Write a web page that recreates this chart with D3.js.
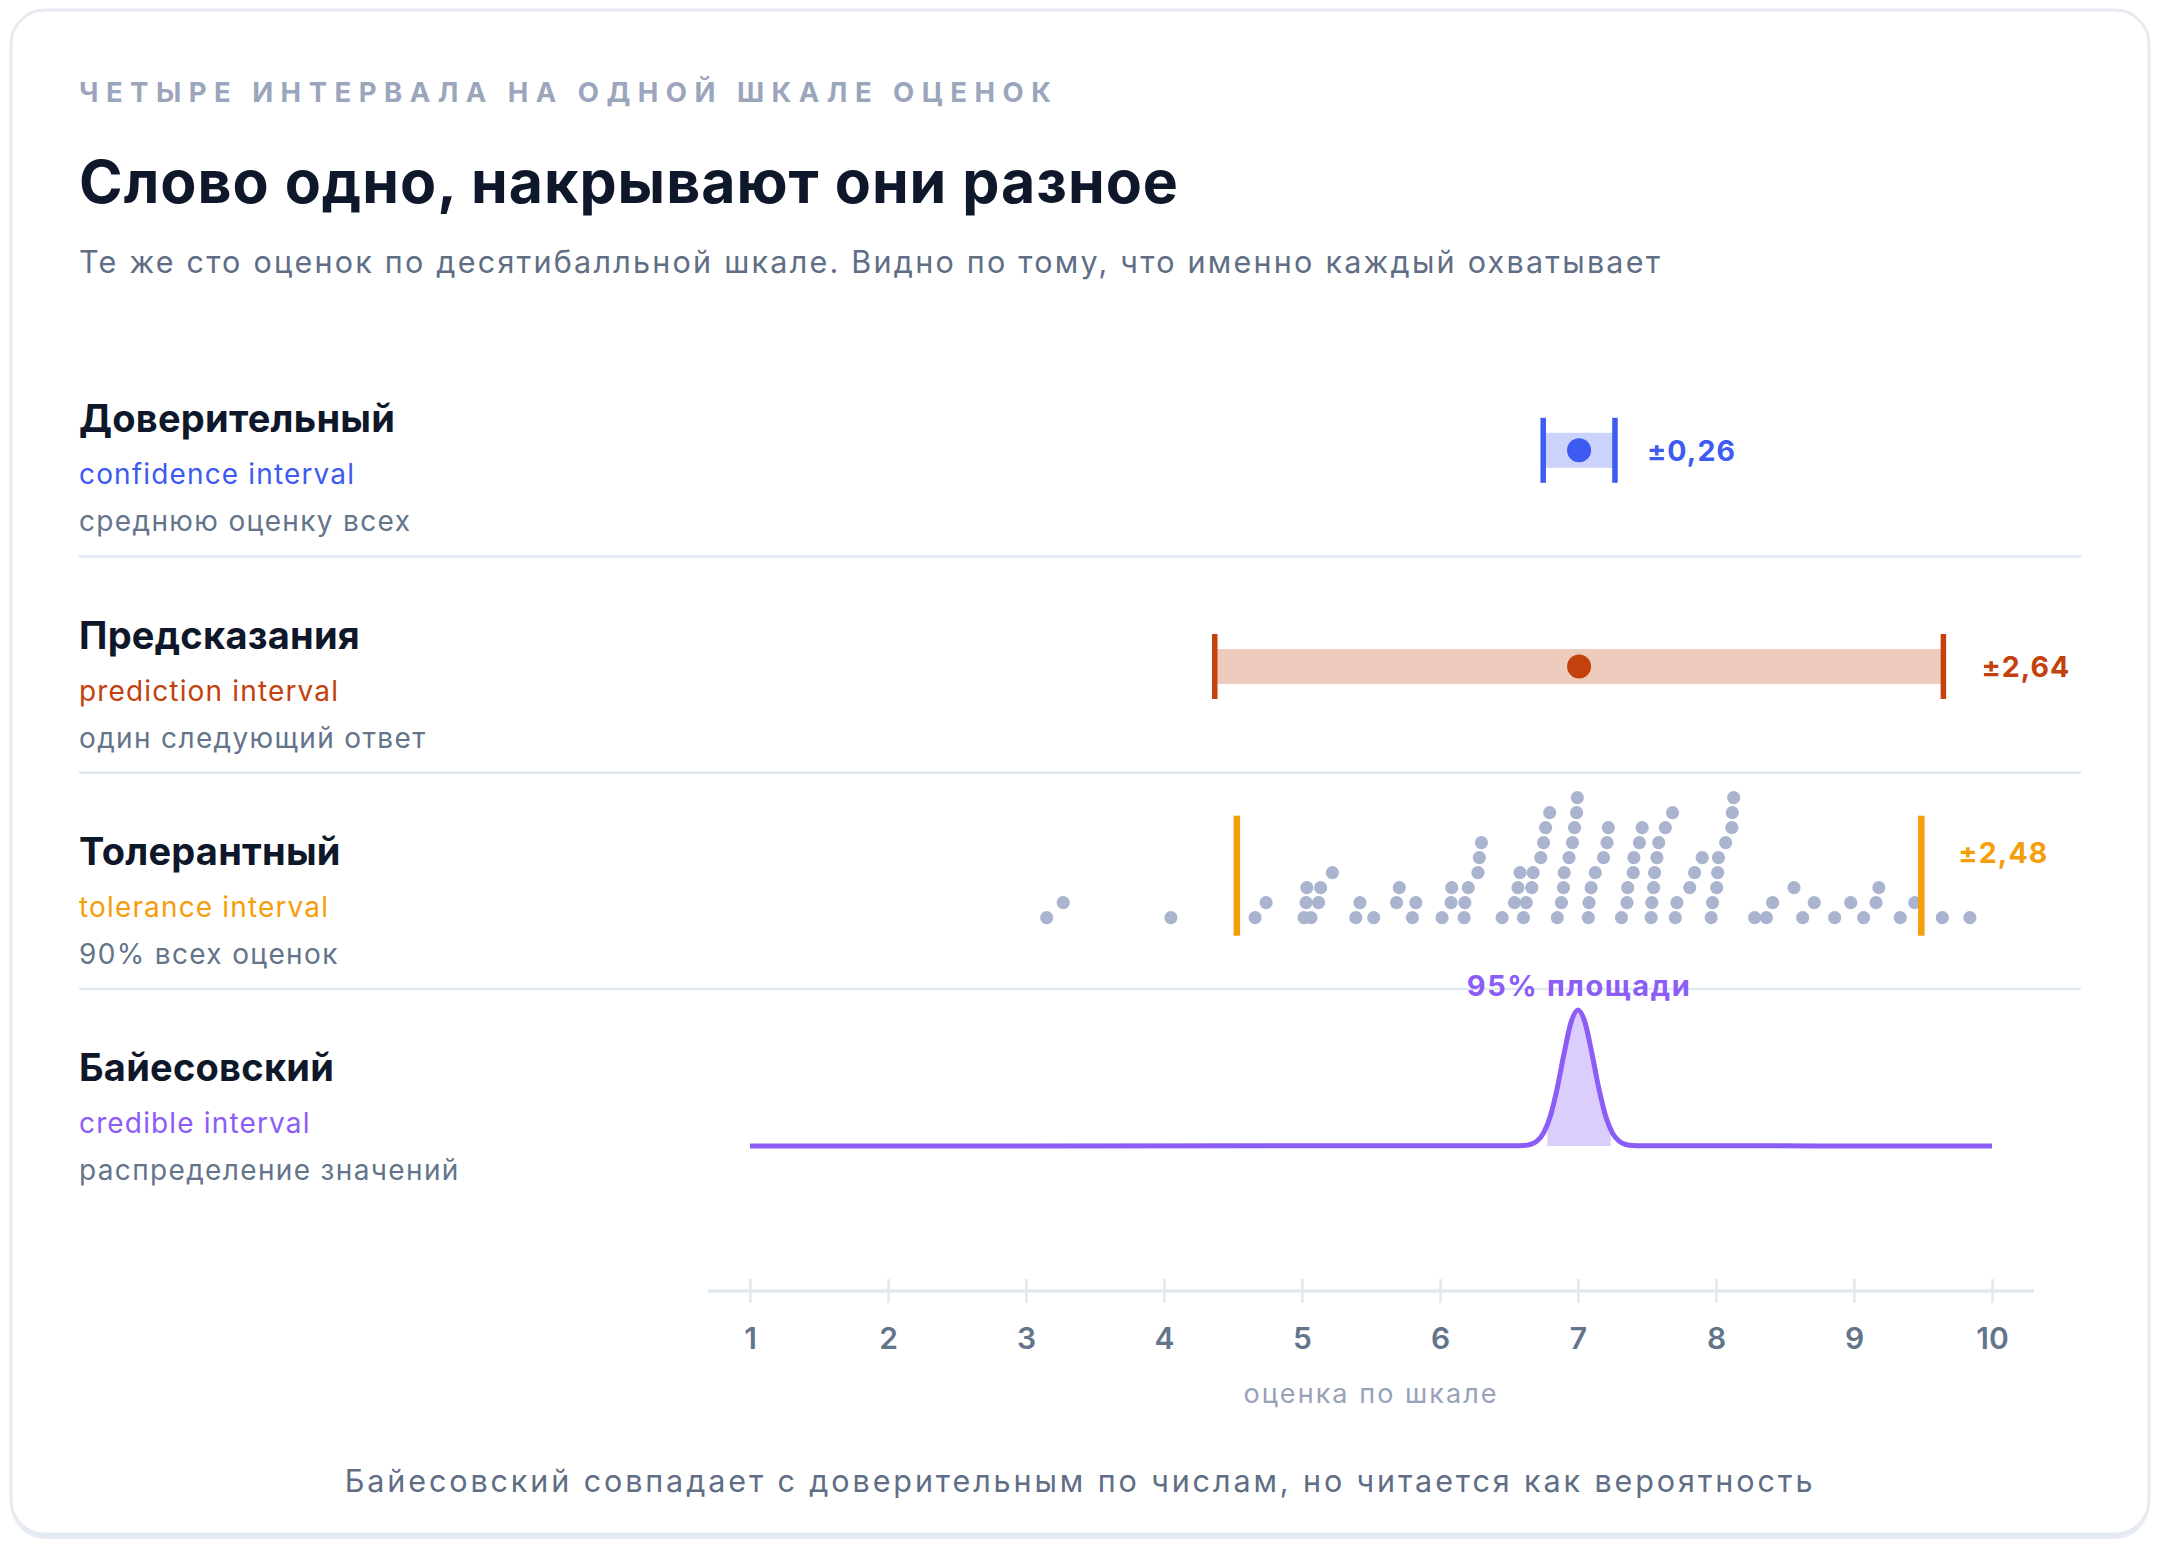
<!DOCTYPE html>
<html><head><meta charset="utf-8">
<script src="https://cdn.jsdelivr.net/npm/d3@7"></script>
<style>
html,body{margin:0;padding:0;background:#fff;}
svg{display:block;font-family:Inter,"Noto Sans",sans-serif;}
</style></head><body>
<svg id="chart" width="2160" height="1548"></svg>
<script>
// ---- text ----
const kicker = "ЧЕТЫРЕ ИНТЕРВАЛА НА ОДНОЙ ШКАЛЕ ОЦЕНОК";
const title = "Слово одно, накрывают они разное";
const subtitle = "Те же сто оценок по десятибалльной шкале. Видно по тому, что именно каждый охватывает";
const footer = "Байесовский совпадает с доверительным по числам, но читается как вероятность";
const axisTitle = "оценка по шкале";

// ---- rows ----
const rowNames = ["Доверительный", "Предсказания", "Толерантный", "Байесовский"];
const rowTerms = ["confidence interval", "prediction interval", "tolerance interval", "credible interval"];
const rowNotes = ["среднюю оценку всех", "один следующий ответ", "90% всех оценок", "распределение значений"];
const rowColors = ["#3d5af1", "#c2410c", "#f59e0b", "#8b5cf6"];

// ---- interval half-widths (confidence, prediction, tolerance) ----
const halfWidths = [0.26, 2.64, 2.48];
const halfLabels = ["±0,26", "±2,64", "±2,48"];
const credibleHalf = 0.23;
const credibleLabel = "95% площади";

// ---- axis ----
const tickValues = [1, 2, 3, 4, 5, 6, 7, 8, 9, 10];

// ---- the hundred scores ----
const scores = [
  3.15, 3.27, 4.05, 4.66, 4.74,
  5.015, 5.03, 5.035, 5.065, 5.12, 5.135, 5.22,
  5.39, 5.42, 5.52, 5.685, 5.705, 5.80, 5.825,
  6.015, 6.08, 6.085, 6.175, 6.18, 6.205, 6.275, 6.285, 6.30,
  6.45, 6.54, 6.565, 6.58,
  6.605, 6.625, 6.665, 6.675, 6.73, 6.75, 6.765, 6.795,
  6.85, 6.88, 6.895, 6.90, 6.935, 6.96, 6.975, 6.99, 6.995,
  7.075, 7.08, 7.095, 7.125, 7.185, 7.21, 7.22,
  7.315, 7.355, 7.36, 7.40, 7.405, 7.445, 7.465,
  7.53, 7.535, 7.548, 7.555, 7.572, 7.585, 7.633, 7.685,
  7.705, 7.717, 7.81, 7.845, 7.90,
  7.965, 7.975, 8.005, 8.012, 8.018, 8.07, 8.115, 8.118, 8.128,
  8.28, 8.365, 8.41, 8.565, 8.628, 8.712, 8.86, 8.976,
  9.07, 9.16, 9.18, 9.335, 9.44, 9.64, 9.84
];

// ---- posterior density (relative height) ----
const densityX = [1, 6.55, 6.6, 6.65, 6.7, 6.75, 6.8, 6.85, 6.9, 6.95, 7.0, 7.05, 7.1, 7.15, 7.2, 7.25, 7.3, 7.35, 7.4, 7.45, 10];
const densityY = [0, 0.0005, 0.0024, 0.0097, 0.033, 0.094, 0.22, 0.427, 0.685, 0.91, 1, 0.91, 0.685, 0.427, 0.22, 0.094, 0.033, 0.0097, 0.0024, 0.0005, 0];

// ================= drawing =================
const svg = d3.select("#chart");
const W = 2160, H = 1548;

// adjust letter-spacing so a text spans a given width (the reference face is looser than Inter)
function fit(sel, w) {
  const n = sel.text().length;
  const len = sel.node().getComputedTextLength();
  sel.attr("letter-spacing", ((w - len) / Math.max(1, n - 1)).toFixed(2) + "px");
  return sel;
}

// card
svg.append("rect").attr("x", 11).attr("y", 13).attr("width", W - 22).attr("height", H - 22)
  .attr("rx", 34).attr("fill", "#e8ecf3");
svg.append("rect").attr("x", 11).attr("y", 10).attr("width", W - 22).attr("height", H - 24)
  .attr("rx", 34).attr("fill", "#fff").attr("stroke", "#e6eaf1").attr("stroke-width", 3);

const left = 79;

fit(svg.append("text").attr("x", left).attr("y", 102).text(kicker)
  .attr("font-size", 27.5).attr("font-weight", 700).attr("fill", "#9ba5bb"), 972);
fit(svg.append("text").attr("x", left).attr("y", 203).text(title)
  .attr("font-size", 59).attr("font-weight", 700).attr("fill", "#0f172a"), 1099);
fit(svg.append("text").attr("x", left).attr("y", 273).text(subtitle)
  .attr("font-size", 30.5).attr("font-weight", 400).attr("fill", "#5f6e85"), 1581);

const x = d3.scaleLinear().domain([1, 10]).range([750, 1992]);

const rowTop0 = 340.3, rowH = 216.2;
const rowTop = i => rowTop0 + rowH * i;

// row labels + separators
rowNames.forEach((name, i) => {
  const t = rowTop(i);
  const g = svg.append("g");
  g.append("text").attr("x", left).attr("y", t + 92).text(name)
    .attr("font-size", 38).attr("font-weight", 700).attr("fill", "#0f172a").attr("letter-spacing", "0.25px");
  g.append("text").attr("x", left).attr("y", t + 144).text(rowTerms[i])
    .attr("font-size", 28).attr("font-weight", 400).attr("fill", rowColors[i]).attr("letter-spacing", "1.15px");
  g.append("text").attr("x", left).attr("y", t + 191).text(rowNotes[i])
    .attr("font-size", 28).attr("font-weight", 400).attr("fill", "#64748b").attr("letter-spacing", "1.35px");
  if (i < 3) {
    svg.append("line").attr("x1", left).attr("x2", 2081).attr("y1", t + rowH).attr("y2", t + rowH)
      .attr("stroke", "#e2e8f0").attr("stroke-width", 2.5);
  }
});

const mean = d3.mean(scores);

// rows 0,1: confidence & prediction intervals
[0, 1].forEach(i => {
  const cy = rowTop(i) + 110;
  const lo = mean - halfWidths[i], hi = mean + halfWidths[i];
  const c = rowColors[i];
  svg.append("rect").attr("x", x(lo)).attr("y", cy - 17.5).attr("width", x(hi) - x(lo)).attr("height", 35)
    .attr("fill", c).attr("fill-opacity", 0.27);
  [lo, hi].forEach(v => svg.append("line").attr("x1", x(v)).attr("x2", x(v))
    .attr("y1", cy - 32.5).attr("y2", cy + 32.5).attr("stroke", c).attr("stroke-width", 5.5));
  svg.append("circle").attr("cx", x(mean)).attr("cy", cy).attr("r", 12).attr("fill", c);
  fit(svg.append("text").attr("x", x(hi) + (i === 0 ? 32 : 38)).attr("y", cy).attr("dy", "0.36em")
    .text(halfLabels[i]).attr("font-size", 28.5).attr("font-weight", 700).attr("fill", c), 88);
});

// row 2: tolerance interval with dot plot
{
  const t = rowTop(2);
  const base = t + 145, step = 15;
  const binW = 0.2204, binOrigin = 5.05;
  const counts = new Map();
  const dots = scores.slice().sort(d3.ascending).map(v => {
    const b = Math.floor((v - binOrigin) / binW);
    const r = counts.get(b) || 0;
    counts.set(b, r + 1);
    return { v, r };
  });
  svg.append("g").selectAll("circle").data(dots).join("circle")
    .attr("cx", d => x(d.v)).attr("cy", d => base - d.r * step).attr("r", 6.6).attr("fill", "#aab4cf");
  const lo = mean - halfWidths[2], hi = mean + halfWidths[2];
  [lo, hi].forEach(v => svg.append("line").attr("x1", x(v)).attr("x2", x(v))
    .attr("y1", t + 43).attr("y2", t + 163).attr("stroke", rowColors[2]).attr("stroke-width", 6.5));
  fit(svg.append("text").attr("x", x(hi) + 37).attr("y", t + 80).attr("dy", "0.36em")
    .text(halfLabels[2]).attr("font-size", 28.5).attr("font-weight", 700).attr("fill", rowColors[2]), 89);
}

// row 3: posterior density
{
  const t = rowTop(3);
  const y = d3.scaleLinear().domain([0, 1]).range([t + 157, t + 21]);
  const pts = densityX.map((d, k) => [d, densityY[k]]);
  const c = rowColors[3];
  svg.append("defs").append("clipPath").attr("id", "cred").append("rect")
    .attr("x", x(mean - credibleHalf)).attr("y", t).attr("width", x(mean + credibleHalf) - x(mean - credibleHalf)).attr("height", 200);
  svg.append("path").datum(pts)
    .attr("d", d3.area().x(d => x(d[0])).y0(y(0)).y1(d => y(d[1])).curve(d3.curveMonotoneX))
    .attr("fill", c).attr("fill-opacity", 0.3).attr("clip-path", "url(#cred)");
  svg.append("path").datum(pts)
    .attr("d", d3.line().x(d => x(d[0])).y(d => y(d[1])).curve(d3.curveMonotoneX))
    .attr("fill", "none").attr("stroke", c).attr("stroke-width", 5).attr("stroke-linejoin", "round");
  const lab = svg.append("text").attr("x", x(mean)).attr("y", t + 7).attr("text-anchor", "middle")
    .text(credibleLabel).attr("font-size", 29).attr("font-weight", 700).attr("fill", c);
  fit(lab, 223);
}

// axis
{
  const ay = 1291;
  const g = svg.append("g").attr("transform", `translate(0,${ay})`);
  g.append("line").attr("x1", 708).attr("x2", 2034).attr("stroke", "#e2e8f0").attr("stroke-width", 3.5);
  const axis = d3.axisBottom(x).tickValues(tickValues).tickFormat(d3.format("d")).tickSize(12).tickPadding(25);
  const ag = g.append("g").call(axis);
  ag.select(".domain").remove();
  ag.selectAll(".tick line").attr("y1", -12).attr("stroke", "#e2e8f0").attr("stroke-width", 2.5);
  ag.selectAll(".tick text").attr("font-family", "Inter").attr("font-size", 30).attr("font-weight", 600)
    .attr("fill", "#64748b");
  fit(svg.append("text").attr("x", x(5.5)).attr("y", 1403).attr("text-anchor", "middle").text(axisTitle)
    .attr("font-size", 27).attr("fill", "#98a2b8"), 253);
}

fit(svg.append("text").attr("x", W / 2).attr("y", 1492).attr("text-anchor", "middle").text(footer)
  .attr("font-size", 30.5).attr("fill", "#5f6e85"), 1468);
</script>
</body></html>
